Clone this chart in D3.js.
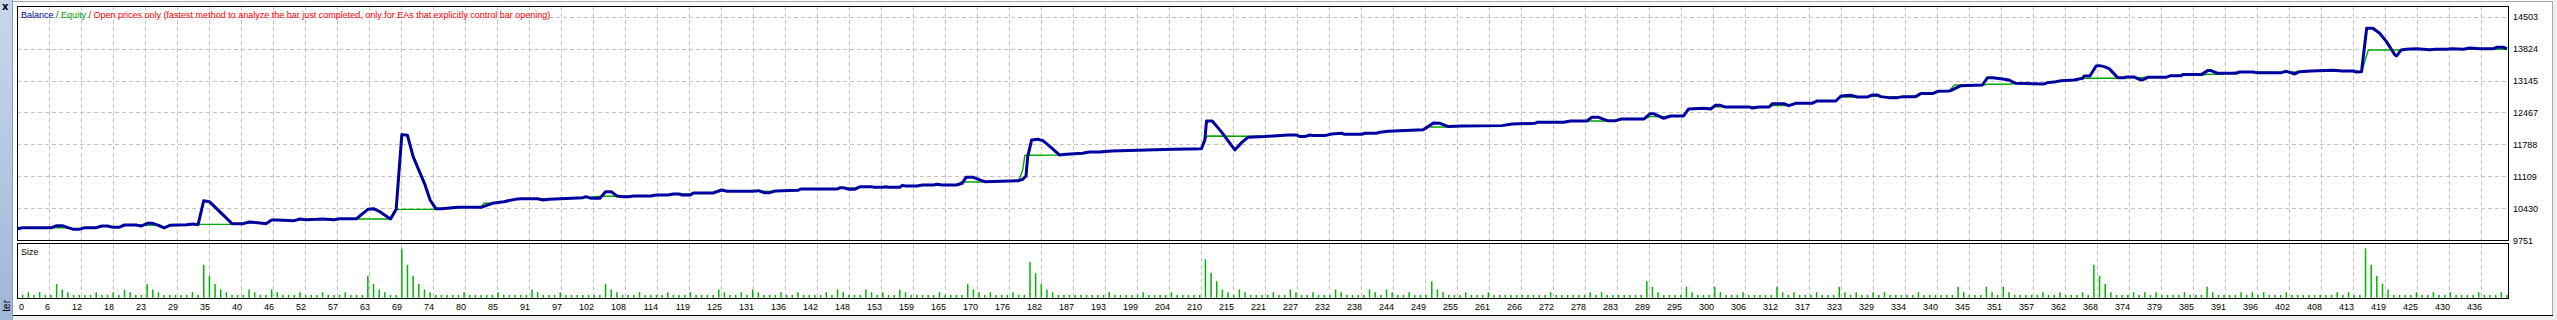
<!DOCTYPE html>
<html>
<head>
<meta charset="utf-8">
<script src="https://cdn.jsdelivr.net/npm/d3@7"></script>
<style>
  html, body { margin: 0; padding: 0; background: #fff; overflow: hidden; }
  svg { display: block; font-family: "Liberation Sans", Arial, sans-serif; }
  .grid line { stroke: #c4c4c4; stroke-width: 1; stroke-dasharray: 4,3; shape-rendering: crispEdges; }
  .frame { fill: none; stroke: #000; stroke-width: 1; shape-rendering: crispEdges; }
  .lbl { font-size: 9px; fill: #000; }
</style>
</head>
<body>
<div id="chart"></div>
<script>
// x axis labels (trade numbers under each vertical grid line)
const xTickLabels = [0, 6, 12, 18, 23, 29, 35, 40, 46, 52, 57, 63, 69, 74, 80, 85,
  91, 97, 102, 108, 114, 119, 125, 131, 136, 142, 148, 153, 159, 165, 170,
  176, 182, 187, 193, 199, 204, 210, 215, 221, 227, 232, 238, 244, 249, 255, 261,
  266, 272, 278, 283, 289, 295, 300, 306, 312, 317, 323, 329, 334, 340, 345, 351,
  357, 362, 368, 374, 379, 385, 391, 396, 402, 408, 413, 419, 425, 430, 436];

// y axis labels (balance)
const yTickLabels = [9751, 10430, 11109, 11788, 12467, 13145, 13824, 14503];

// balance line [trade, value]
const balance = [[0,10000],[1,10020],[6,10020],[7,10066],[8,10066],[9,10023],[10,9988],[11,9988],[12,10023],[14,10023],
  [15,10059],[16,10059],[17,10030],[18,10030],[19,10080],[21,10080],[22,10059],[23,10116],[24,10116],[25,10073],
  [26,10016],[27,10073],[30,10087],[31,10101],[32,10087],[33,10596],[34,10575],[38,10108],[40,10108],[41,10144],
  [43,10122],[44,10108],[45,10186],[46,10186],[49,10172],[50,10207],[51,10193],[53,10200],[54,10207],[56,10193],
  [57,10214],[60,10214],[62,10412],[63,10426],[64,10370],[66,10207],[67,10412],[68,11997],[69,11983],[70,11530],
  [72,10964],[73,10610],[74,10426],[75,10426],[78,10455],[82,10455],[83,10497],[84,10540],[86,10575],[88,10624],
  [89,10638],[92,10638],[93,10610],[94,10624],[96,10638],[100,10660],[100.5,10681],[101.5,10645],[103,10645],[104,10787],
  [105,10787],[106,10695],[107,10681],[108,10681],[109,10695],[112,10695],[113,10716],[115,10716],[116,10737],[117,10737],
  [117.5,10716],[119,10716],[119.5,10759],[123,10759],[124,10801],[124.5,10822],[125.5,10794],[130,10794],[131,10808],[132,10766],
  [133,10766],[134,10801],[138,10815],[138.5,10844],[145,10844],[145.5,10872],[146,10872],[147,10837],[148,10837],[149,10893],
  [151,10893],[151.5,10879],[153,10879],[153.5,10893],[154,10879],[156,10879],[156.5,10921],[157,10907],[159,10907],[160,10928],
  [162,10928],[162.5,10943],[163.5,10928],[166,10928],[167,10964],[167.7,11091],[169,11091],[170.5,11020],[171,10999],[177,11021],
  [177.7,11049],[178.3,11120],[178.6,11530],[179.3,11884],[180.4,11898],[181.3,11870],[182.7,11728],[184.2,11566],[185.4,11580],[188.3,11601],
  [189.5,11629],[191.3,11629],[193.4,11651],[198.1,11665],[204.3,11686],[209.3,11700],[209.9,11884],[210.2,12287],[211.2,12287],[212.8,12061],
  [215.2,11672],[216.4,11827],[217.5,11941],[220.5,11955],[224.6,11990],[226,11990],[226.7,11955],[227.6,11955],[228.5,11990],[229,11976],
  [231.1,11976],[232.3,12011],[234.1,12026],[234.6,12004],[237.6,12004],[238.2,12026],[240.2,12026],[240.8,12047],[242.3,12068],[245.3,12082],
  [248.5,12103],[249.1,12146],[250.3,12245],[251.5,12238],[252.9,12167],[255.3,12181],[262.4,12188],[264.2,12223],[268.3,12237],[268.6,12258],
  [273.3,12258],[274.5,12287],[277.4,12287],[278.3,12364],[279.5,12364],[281,12294],[282.5,12294],[283.5,12329],[287.5,12329],[288.6,12442],
  [289.2,12442],[291,12343],[292.2,12393],[294.5,12393],[295.4,12541],[298.1,12555],[299.3,12541],[300.1,12619],[301,12619],[301.8,12584],
  [306.1,12584],[306.6,12562],[307.8,12584],[309.6,12584],[310.2,12654],[312.2,12654],[313.1,12612],[314.3,12661],[317.2,12661],[318.1,12711],
  [321.4,12711],[322.3,12817],[324,12831],[325.2,12796],[327,12796],[327.9,12838],[328.8,12838],[329.3,12803],[330.8,12782],[332.3,12782],
  [333.2,12803],[335.5,12803],[336.4,12867],[338.5,12867],[339.4,12916],[341.4,12923],[341.7,12930],[343.5,13036],[347.3,13050],[348.2,13206],
  [349.1,13206],[350.9,13178],[352,13156],[353.2,13086],[358.2,13072],[358.8,13100],[360.3,13121],[361.2,13142],[363.5,13156],[365,13192],
  [365.3,13241],[366.3,13241],[367.4,13454],[368,13461],[368.8,13439],[369.7,13397],[371.2,13206],[372.4,13206],[372.7,13220],[374.1,13220],
  [375,13171],[375.6,13156],[376.5,13213],[379.7,13213],[380.6,13248],[382.4,13248],[382.7,13270],[386,13270],[387.1,13355],[387.7,13355],
  [388.9,13298],[392.1,13298],[392.7,13326],[395.1,13326],[395.7,13312],[400.1,13312],[401,13340],[402.5,13284],[403.3,13333],[405.4,13347],
  [409.2,13362],[411,13347],[412.8,13347],[413.4,13326],[414.3,13333],[415.2,14253],[416.3,14253],[417.5,14147],[418.7,13970],[420.2,13687],
  [420.5,13666],[421.3,13793],[422.2,13807],[424,13821],[426.4,13800],[427.3,13807],[429.3,13807],[430.2,13821],[432.3,13807],[433.4,13836],
  [435.2,13821],[437.6,13821],[438.2,13850],[439.3,13850],[440,13821]];

// equity line [trade, value]
const equity = [[0,10000],[1,10020],[9,10020],[10,9998],[11,9998],[12,10023],[14,10023],[15,10052],[16,10052],[17,10035],
  [18,10035],[19,10075],[21,10075],[22.5,10073],[25.3,10073],[26,10040],[27,10073],[30,10087],[32,10094],[38,10094],
  [38.5,10108],[40,10108],[41,10130],[43,10122],[44,10115],[45,10186],[46,10186],[49,10172],[50,10200],[56,10200],
  [57,10207],[66,10207],[67,10412],[74,10412],[75,10426],[78,10455],[82,10455],[82.5,10540],[84,10540],[86,10575],
  [88,10624],[92,10631],[96,10638],[100,10655],[103,10690],[107,10690],[109,10695],[112,10695],[113,10716],[115,10716],
  [116,10737],[119,10745],[120,10759],[123,10759],[124,10808],[126,10808],[130,10794],[131,10800],[133,10790],[134,10801],
  [138,10815],[138.5,10844],[145,10844],[145.5,10865],[148,10865],[149,10886],[156,10886],[156.5,10914],[159,10914],[160,10928],
  [166,10928],[166.9,10992],[170.4,10992],[171,10999],[177,11021],[177.7,11240],[178.1,11559],[184.2,11566],[185.4,11580],[188.3,11601],
  [189.5,11625],[193.4,11651],[198.1,11665],[204.3,11686],[209.3,11700],[209.9,11884],[210.3,11969],[217.5,11962],[220.5,11962],[224.6,11990],
  [226,11990],[226.7,11969],[228.5,11983],[231.1,11983],[232.3,12004],[238.2,12018],[240.8,12040],[242.3,12068],[245.3,12082],[248.5,12103],
  [249.1,12160],[253,12160],[255.3,12181],[262.4,12188],[264.2,12230],[268.3,12237],[268.6,12258],[273.3,12258],[274.5,12287],[281,12287],
  [282.5,12294],[283.5,12329],[287.5,12329],[288.6,12379],[291,12379],[292.2,12393],[294.5,12393],[295.4,12541],[298.1,12555],[299.3,12555],
  [300.1,12590],[306.6,12590],[309.6,12584],[310.2,12612],[313.1,12612],[314.3,12661],[317.2,12661],[318.1,12711],[321.4,12711],[322.3,12796],
  [327,12796],[327.9,12817],[330.8,12796],[333.2,12803],[335.5,12810],[336.4,12867],[338.5,12867],[339.4,12916],[341.4,12923],[342.4,13050],
  [347.3,13050],[348.2,13065],[352,13065],[353.2,13086],[358.2,13072],[360.3,13121],[363.5,13156],[365.3,13192],[371.2,13192],[372.7,13213],
  [375,13206],[376.5,13213],[379.7,13213],[380.6,13248],[386,13262],[387.1,13277],[388.9,13277],[392.7,13326],[395.1,13326],[400.1,13312],
  [401,13326],[403.3,13326],[405.4,13347],[409.2,13354],[412.8,13347],[414.3,13333],[415.5,13793],[421.3,13793],[422.2,13807],[424,13821],
  [426.4,13800],[429.3,13807],[438,13807],[440,13807]];

// lot size per trade (0.01 lots), trades 1..440
const sizes = [
  1,2,1,2,1,1,5,3,2,1, 1,1,1,2,1,1,2,1,3,2, 1,1,5,3,2,1,1,1,1,1, 2,1,12,8,5,3,2,1,1,1,
  3,2,1,1,3,2,1,1,1,2, 1,1,1,2,1,1,1,2,1,1, 1,8,5,3,2,1,1,18,12,8, 5,3,2,1,1,1,1,1,2,1,
  1,1,1,1,2,1,1,1,1,1, 3,2,1,1,1,2,1,1,1,1, 1,1,1,5,3,2,1,1,1,2, 1,1,1,1,2,1,1,1,2,1,
  1,1,1,3,2,1,1,2,1,3, 2,1,1,1,2,1,1,2,1,1, 1,1,2,1,3,2,1,1,1,3, 2,1,2,1,1,3,2,1,1,1,
  1,1,2,1,1,1,1,5,3,2, 1,2,1,1,1,2,1,1,13,9, 5,3,2,1,1,1,1,1,1,1, 1,1,2,1,1,1,1,1,2,1,
  1,1,1,2,1,1,1,1,1,14, 9,6,3,2,1,3,2,1,1,1, 1,2,1,1,3,2,1,1,2,1, 1,1,3,2,1,1,1,1,3,2,
  1,3,2,1,1,2,1,1,1,6, 3,2,1,1,1,2,1,1,1,2, 1,1,1,1,1,1,1,1,1,1, 2,1,1,1,1,1,1,2,1,2,
  1,1,1,1,1,1,1,6,4,2, 1,1,1,1,4,2,1,1,1,4, 2,1,1,1,2,1,1,1,1,1, 4,2,1,2,1,1,1,2,1,1,
  1,4,2,1,2,1,1,2,1,2, 1,1,1,1,1,2,1,1,1,1, 1,1,4,2,1,1,1,4,2,1, 4,2,1,1,1,1,1,2,1,1,
  2,1,1,1,2,1,12,8,5,2, 1,1,1,2,1,2,1,2,1,1, 1,1,2,1,1,1,4,2,1,1, 1,1,2,1,2,1,2,1,1,1,
  2,1,1,1,1,1,1,1,1,2, 1,2,1,1,18,12,8,5,3,1, 1,1,1,2,1,1,2,1,1,2, 1,1,1,1,2,1,1,1,2,1];

const WIDTH = 2557;
const HEIGHT = 320;
const PLOT = { left: 17, right: 2508, top: 6, bottom: 240.5 };
const SIZE_PANEL = { top: 243.5, bottom: 298.5 };
const GRID_STEP = 32;

const BALANCE_COLOR = '#0000a0';
const EQUITY_COLOR = '#00a800';
const SIZE_COLOR = '#00b400';

const svg = d3.select('#chart')
  .append('svg')
  .attr('width', WIDTH)
  .attr('height', HEIGHT);

// window chrome around the chart
const strip = svg.append('defs').append('linearGradient')
  .attr('id', 'strip').attr('x1', 0).attr('y1', 0).attr('x2', 0).attr('y2', 1);
strip.append('stop').attr('offset', 0).attr('stop-color', '#c7d8ec');
strip.append('stop').attr('offset', 1).attr('stop-color', '#9fb7d6');
svg.append('rect').attr('x', 0).attr('y', 0).attr('width', 12).attr('height', HEIGHT).attr('fill', 'url(#strip)');
svg.append('line').attr('x1', 12.5).attr('x2', 12.5).attr('y1', 0).attr('y2', HEIGHT)
  .attr('stroke', '#8a9bb2').attr('shape-rendering', 'crispEdges');
svg.append('text').attr('x', 2).attr('y', 10).text('x')
  .style('font-size', '10px').style('font-weight', 'bold').style('font-family', 'DejaVu Sans, sans-serif');
svg.append('text').attr('transform', 'translate(10,300) rotate(-90)').attr('text-anchor', 'end')
  .text('ter').style('font-size', '10px').style('font-family', 'Liberation Sans, sans-serif');
svg.append('line').attr('x1', 13).attr('x2', 2553).attr('y1', 1.5).attr('y2', 1.5)
  .attr('stroke', '#a8a8a8').attr('shape-rendering', 'crispEdges');
svg.append('line').attr('x1', 2552.5).attr('x2', 2552.5).attr('y1', 1).attr('y2', 315)
  .attr('stroke', '#a8a8a8').attr('shape-rendering', 'crispEdges');
svg.append('rect').attr('x', 2553).attr('y', 0).attr('width', 4).attr('height', HEIGHT).attr('fill', '#f0f0f0');
svg.append('line').attr('x1', 13).attr('x2', 2553).attr('y1', 315.5).attr('y2', 315.5)
  .attr('stroke', '#000').attr('shape-rendering', 'crispEdges');
svg.append('rect').attr('x', 13).attr('y', 316).attr('width', 2540).attr('height', 4).attr('fill', '#f0f0f0');

// scales
const x = d3.scaleLinear().domain([0, sizes.length]).range([PLOT.left, PLOT.right - 1]);
const y = d3.scaleLinear().domain([yTickLabels[0], yTickLabels[yTickLabels.length - 1]])
  .range([PLOT.bottom, PLOT.bottom - GRID_STEP * (yTickLabels.length - 1)]);
const gridX = d3.scalePoint().domain(d3.range(xTickLabels.length))
  .range([PLOT.left, PLOT.left + GRID_STEP * (xTickLabels.length - 1)]);
const ySize = d3.scaleLinear().domain([0, d3.max(sizes) * 1.1]).range([SIZE_PANEL.bottom - 0.8, SIZE_PANEL.top]);

// grid
const grid = svg.append('g').attr('class', 'grid');
grid.selectAll('line.v')
  .data(d3.range(1, xTickLabels.length))
  .enter().append('line')
  .attr('class', 'v')
  .attr('x1', d => gridX(d) + 0.5).attr('x2', d => gridX(d) + 0.5)
  .attr('y1', PLOT.top).attr('y2', SIZE_PANEL.bottom);
grid.selectAll('line.h')
  .data(yTickLabels.slice(1))
  .enter().append('line')
  .attr('class', 'h')
  .attr('x1', PLOT.left).attr('x2', PLOT.right)
  .attr('y1', d => Math.round(y(d)) + 0.5).attr('y2', d => Math.round(y(d)) + 0.5);

// clip the lines to the main panel
svg.append('clipPath').attr('id', 'main-clip')
  .append('rect').attr('x', PLOT.left).attr('y', PLOT.top)
  .attr('width', PLOT.right - PLOT.left).attr('height', PLOT.bottom - PLOT.top);

const line = d3.line().x(d => x(d[0])).y(d => y(d[1]));

const lines = svg.append('g').attr('clip-path', 'url(#main-clip)');
lines.append('path')
  .datum(equity)
  .attr('d', line)
  .attr('fill', 'none')
  .attr('stroke', EQUITY_COLOR)
  .attr('stroke-width', 1.4);
lines.append('path')
  .datum(balance)
  .attr('d', line)
  .attr('fill', 'none')
  .attr('stroke', BALANCE_COLOR)
  .attr('stroke-width', 3)
  .attr('stroke-linejoin', 'round');

// size bars
svg.append('g')
  .selectAll('line')
  .data(sizes)
  .enter().append('line')
  .attr('x1', (d, i) => x(i + 1)).attr('x2', (d, i) => x(i + 1))
  .attr('y1', ySize(0)).attr('y2', d => ySize(d))
  .attr('stroke', SIZE_COLOR)
  .attr('stroke-width', 1.5);

// frames
svg.append('rect').attr('class', 'frame')
  .attr('x', PLOT.left + 0.5).attr('y', PLOT.top + 0.5)
  .attr('width', PLOT.right - PLOT.left).attr('height', PLOT.bottom - PLOT.top - 0.5);
svg.append('rect').attr('class', 'frame')
  .attr('x', PLOT.left + 0.5).attr('y', SIZE_PANEL.top)
  .attr('width', PLOT.right - PLOT.left).attr('height', SIZE_PANEL.bottom - SIZE_PANEL.top);

// y axis labels
const yAxis = svg.append('g')
  .attr('transform', `translate(${PLOT.right}, 0)`)
  .call(d3.axisRight(y).tickValues(yTickLabels).tickSize(0).tickPadding(5).tickFormat(d3.format('d')));
yAxis.select('.domain').remove();
yAxis.selectAll('text').attr('class', 'lbl').attr('font-family', null).attr('font-size', null);

// x axis labels
svg.append('g')
  .selectAll('text')
  .data(xTickLabels)
  .enter().append('text')
  .attr('class', 'lbl')
  .attr('x', (d, i) => i === 0 ? gridX(i) + 2 : gridX(i) + 1)
  .attr('y', 309.5)
  .attr('text-anchor', (d, i) => i === 0 ? 'start' : 'end')
  .text(d => d);

// legend
const legend = svg.append('text').attr('class', 'lbl').attr('x', 21).attr('y', 18);
legend.append('tspan').attr('fill', '#0000a0').text('Balance');
legend.append('tspan').attr('fill', '#404040').text(' / ');
legend.append('tspan').attr('fill', '#00a000').text('Equity');
legend.append('tspan').attr('fill', '#404040').text(' / ');
legend.append('tspan').attr('fill', '#ff0000')
  .text('Open prices only (fastest method to analyze the bar just completed, only for EAs that explicitly control bar opening)');

svg.append('text').attr('class', 'lbl').attr('x', 21).attr('y', 255).text('Size');
</script>
</body>
</html>
